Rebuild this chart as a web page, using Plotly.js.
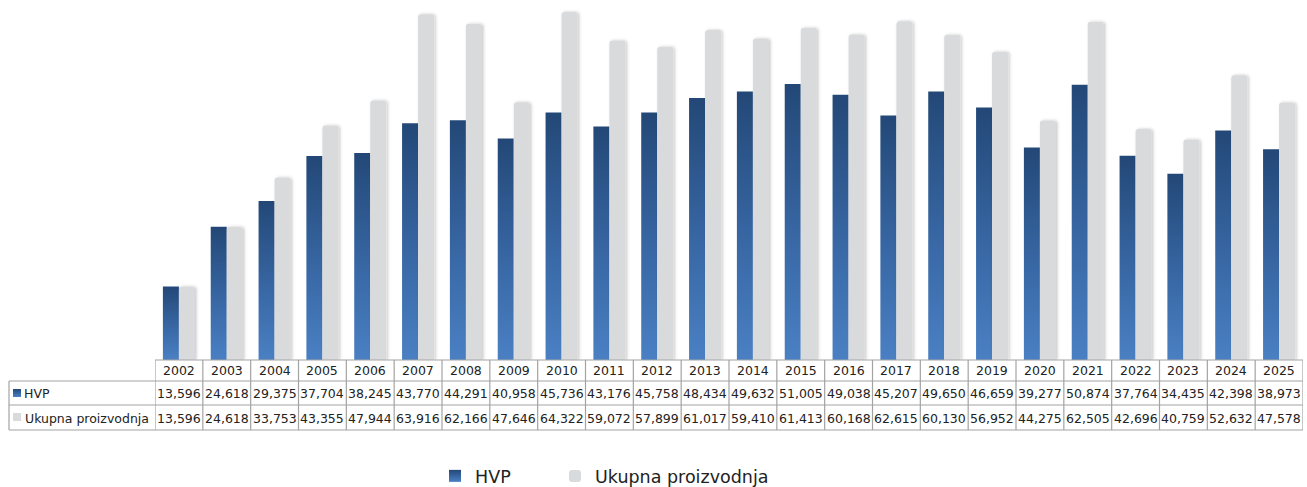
<!DOCTYPE html>
<html>
<head>
<meta charset="utf-8">
<script src="https://cdn.plot.ly/plotly-3.0.1.min.js"></script>
<style>
  html, body { margin: 0; padding: 0; background: #ffffff; }
  #chart { width: 1307px; height: 487px; }
</style>
</head>
<body>
<div id="chart"></div>
<script>
const years = ['2002','2003','2004','2005','2006','2007','2008','2009','2010','2011','2012','2013',
               '2014','2015','2016','2017','2018','2019','2020','2021','2022','2023','2024','2025'];
const hvp = [13596, 24618, 29375, 37704, 38245, 43770, 44291, 40958, 45736, 43176, 45758, 48434,
             49632, 51005, 49038, 45207, 49650, 46659, 39277, 50874, 37764, 34435, 42398, 38973];
const ukupno = [13596, 24618, 33753, 43355, 47944, 63916, 62166, 47646, 64322, 59072, 57899, 61017,
                59410, 61413, 60168, 62615, 60130, 56952, 44275, 62505, 42696, 40759, 52632, 47578];
const seriesNames = ['HVP', 'Ukupna proizvodnja'];

// geometry helpers (pixel -> paper)
const W = 1307, H = 487, ML = 155, MR = 4, MT = 0, MB = 127;
const PW = W - ML - MR, PH = H - MT - MB;
const px = X => (X - ML) / PW;
const py = Y => (MT + PH - Y) / PH;

const FONT = 'DejaVu Sans, Verdana, sans-serif';
const TXT = '#222222';
const LINE = '#a3a3a3';
const fmt = v => v.toLocaleString('en-US');

const data = [
  { type: 'bar', name: seriesNames[0], x: years, y: hvp, legend: 'legend',
    marker: { color: '#3a67a3', line: { width: 0 } }, hoverinfo: 'x+y+name' },
  { type: 'bar', name: seriesNames[1], x: years, y: ukupno, legend: 'legend2',
    marker: { color: '#d9dadc', line: { width: 0 }, cornerradius: 3 }, hoverinfo: 'x+y+name' }
];

const shapes = [];
const annotations = [];
const yTop = py(360), yR1 = py(381), yR2 = py(405), yR3 = py(430), xLeft = px(9);
// horizontal table lines
shapes.push({ type: 'line', xref: 'paper', yref: 'paper', x0: 0, x1: 1, y0: yTop, y1: yTop, line: { color: LINE, width: 1.2 } });
[yR1, yR2, yR3].forEach(y => shapes.push({ type: 'line', xref: 'paper', yref: 'paper', x0: xLeft, x1: 1, y0: y, y1: y, line: { color: LINE, width: 1.2 } }));
// vertical lines
shapes.push({ type: 'line', xref: 'paper', yref: 'paper', x0: xLeft, x1: xLeft, y0: yR1, y1: yR3, line: { color: LINE, width: 1.2 } });
for (let i = 0; i <= years.length; i++) {
  shapes.push({ type: 'line', xref: 'x', yref: 'paper', x0: i - 0.5, x1: i - 0.5, y0: yTop, y1: yR3, line: { color: LINE, width: 1.2 } });
}
// row label icons
const iconBlueIndex = shapes.length;
shapes.push({ type: 'rect', xref: 'paper', yref: 'paper', x0: px(13), x1: px(21), y0: py(389), y1: py(397), fillcolor: '#3a67a3', line: { width: 0 } });
shapes.push({ type: 'rect', xref: 'paper', yref: 'paper', x0: px(13), x1: px(21), y0: py(413), y1: py(421), fillcolor: '#d9dadc', line: { width: 0 } });

const cellFont = { family: FONT, size: 12.5, color: TXT };
years.forEach((yr, i) => {
  annotations.push({ xref: 'x', yref: 'paper', x: i, y: py(371), text: yr, showarrow: false, font: cellFont, xanchor: 'center', yanchor: 'middle' });
  annotations.push({ xref: 'x', yref: 'paper', x: i, y: py(393.5), text: fmt(hvp[i]), showarrow: false, font: cellFont, xanchor: 'center', yanchor: 'middle' });
  annotations.push({ xref: 'x', yref: 'paper', x: i, y: py(418), text: fmt(ukupno[i]), showarrow: false, font: cellFont, xanchor: 'center', yanchor: 'middle' });
});
annotations.push({ xref: 'paper', yref: 'paper', x: px(22), y: py(393.5), text: seriesNames[0], showarrow: false, font: cellFont, xanchor: 'left', yanchor: 'middle' });
annotations.push({ xref: 'paper', yref: 'paper', x: px(23), y: py(418), text: seriesNames[1], showarrow: false, font: cellFont, xanchor: 'left', yanchor: 'middle' });

const legendBase = { orientation: 'h', xanchor: 'left', y: py(476), yanchor: 'middle',
  font: { family: FONT, size: 17.5, color: TXT }, bgcolor: 'rgba(0,0,0,0)', borderwidth: 0,
  itemclick: false, itemdoubleclick: false };

const layout = {
  width: W, height: H,
  margin: { l: ML, r: MR, t: MT, b: MB, pad: 0, autoexpand: false },
  paper_bgcolor: '#ffffff', plot_bgcolor: '#ffffff',
  barmode: 'group', bargap: 0.33, bargroupgap: 0,
  font: { family: FONT, color: TXT },
  xaxis: { type: 'category', range: [-0.5, years.length - 0.5], showticklabels: false,
           showgrid: false, zeroline: false, showline: false, ticks: '', fixedrange: true },
  yaxis: { visible: false, range: [0, 66540], showgrid: false, zeroline: false, fixedrange: true },
  showlegend: true,
  legend: Object.assign({}, legendBase, { x: px(435) }),
  legend2: Object.assign({}, legendBase, { x: px(555) }),
  shapes: shapes,
  annotations: annotations
};

Plotly.newPlot('chart', data, layout, { displayModeBar: false, staticPlot: true }).then(gd => {
  const ns = 'http://www.w3.org/2000/svg';
  const svg = gd.querySelector('.main-svg');
  let defs = svg.querySelector('defs');
  if (!defs) { defs = document.createElementNS(ns, 'defs'); svg.insertBefore(defs, svg.firstChild); }
  const grad = document.createElementNS(ns, 'linearGradient');
  grad.setAttribute('id', 'hvpGrad');
  grad.setAttribute('x1', '0'); grad.setAttribute('y1', '0');
  grad.setAttribute('x2', '0'); grad.setAttribute('y2', '1');
  [['0', '#234877'], ['0.55', '#3867a4'], ['1', '#4a80c3']].forEach(([o, c]) => {
    const s = document.createElementNS(ns, 'stop');
    s.setAttribute('offset', o); s.setAttribute('stop-color', c);
    grad.appendChild(s);
  });
  defs.appendChild(grad);
  const filt = document.createElementNS(ns, 'filter');
  filt.setAttribute('id', 'barShadow');
  filt.setAttribute('x', '-50%'); filt.setAttribute('y', '-10%');
  filt.setAttribute('width', '200%'); filt.setAttribute('height', '120%');
  const ds = document.createElementNS(ns, 'feDropShadow');
  ds.setAttribute('dx', '1.5'); ds.setAttribute('dy', '0');
  ds.setAttribute('stdDeviation', '1.6');
  ds.setAttribute('flood-color', '#000'); ds.setAttribute('flood-opacity', '0.22');
  filt.appendChild(ds);
  defs.appendChild(filt);

  const traces = gd.querySelectorAll('.barlayer .trace');
  if (traces[0]) traces[0].querySelectorAll('path').forEach(p => { p.style.fill = 'url(#hvpGrad)'; });
  if (traces[1]) traces[1].querySelectorAll('path').forEach(p => { p.setAttribute('filter', 'url(#barShadow)'); });
  const legPaths = gd.querySelectorAll('.legend .traces');
  if (legPaths[0]) legPaths[0].querySelectorAll('.legendpoints path').forEach(p => { p.style.fill = 'url(#hvpGrad)'; });
  const icon = gd.querySelector('.shapelayer path[data-index="' + iconBlueIndex + '"]');
  if (icon) icon.style.fill = 'url(#hvpGrad)';
});
</script>
</body>
</html>
